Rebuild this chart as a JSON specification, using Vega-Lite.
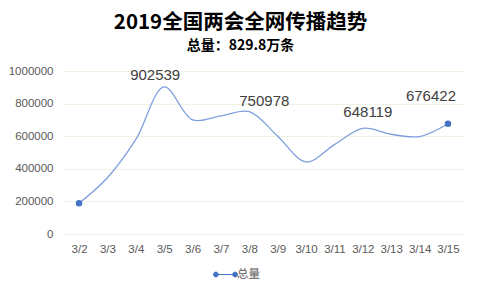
{
  "$schema": "https://vega.github.io/schema/vega-lite/v6.json",
  "autosize": "none",
  "width": 399,
  "height": 163,
  "padding": {"left": 64, "top": 71, "right": 17, "bottom": 56},
  "background": "#ffffff",
  "title": {
    "text": "2019全国两会全网传播趋势",
    "subtitle": "总量：829.8万条",
    "anchor": "middle",
    "dx": -23,
    "offset": 12,
    "font": "Noto Sans CJK SC",
    "fontSize": 20.5,
    "fontWeight": "bold",
    "color": "#000000",
    "subtitleFont": "Noto Sans CJK SC",
    "subtitleFontSize": 14,
    "subtitleFontWeight": "bold",
    "subtitleColor": "#000000",
    "subtitlePadding": 6
  },
  "config": {
    "view": {"stroke": null},
    "font": "Liberation Sans"
  },
  "data": {
    "values": [
      {"date": "3/2", "value": 188000},
      {"date": "3/3", "value": 345000},
      {"date": "3/4", "value": 580000},
      {"date": "3/5", "value": 902539},
      {"date": "3/6", "value": 700000},
      {"date": "3/7", "value": 725000},
      {"date": "3/8", "value": 750978},
      {"date": "3/9", "value": 600000},
      {"date": "3/10", "value": 442000},
      {"date": "3/11", "value": 548000},
      {"date": "3/12", "value": 648119},
      {"date": "3/13", "value": 612000},
      {"date": "3/14", "value": 598000},
      {"date": "3/15", "value": 676422}
    ]
  },
  "encoding": {
    "x": {
      "field": "date",
      "type": "ordinal",
      "sort": null,
      "scale": {"type": "point", "padding": 0.53},
      "axis": {
        "title": null,
        "labelAngle": 0,
        "domain": false,
        "ticks": false,
        "grid": false,
        "labelPadding": 9,
        "labelFontSize": 11.5,
        "labelColor": "#595959",
        "labelFont": "Liberation Sans"
      }
    },
    "y": {
      "field": "value",
      "type": "quantitative",
      "scale": {"domain": [0, 1000000]},
      "axis": {
        "title": null,
        "values": [0, 200000, 400000, 600000, 800000, 1000000],
        "format": "d",
        "domain": false,
        "ticks": false,
        "labelPadding": 11,
        "labelFontSize": 11.5,
        "labelColor": "#595959",
        "labelFont": "Liberation Sans",
        "gridColor": "#eef2e2",
        "gridWidth": 1
      }
    }
  },
  "layer": [
    {
      "mark": {"type": "line", "interpolate": "catmull-rom", "strokeWidth": 1.3, "color": "#7e9fdc"}
    },
    {
      "transform": [{"filter": {"field": "date", "oneOf": ["3/2", "3/15"]}}],
      "mark": {"type": "circle", "size": 42, "opacity": 1},
      "encoding": {
        "color": {
          "datum": "总量",
          "scale": {"range": ["#4472C4"]},
          "legend": {
            "title": null,
            "orient": "none",
            "legendX": 151,
            "legendY": 193,
            "symbolType": "M-1,0H1M-1.25,0A0.25,0.25,0,1,1,-0.75,0A0.25,0.25,0,1,1,-1.25,0M0.75,0A0.25,0.25,0,1,1,1.25,0A0.25,0.25,0,1,1,0.75,0",
            "symbolSize": 370,
            "symbolStrokeWidth": 1,
            "symbolFillColor": "#4472C4",
            "symbolStrokeColor": "#4472C4",
            "labelFont": "Noto Sans CJK SC",
            "labelFontSize": 11.5,
            "labelColor": "#595959",
            "labelOffset": 1
          }
        }
      }
    },
    {
      "transform": [{"filter": {"field": "date", "equal": "3/5"}}],
      "mark": {"type": "text", "dx": -9, "dy": -12, "fontSize": 15, "color": "#404040", "font": "Liberation Sans"},
      "encoding": {"text": {"field": "value", "type": "quantitative", "format": "d"}}
    },
    {
      "transform": [{"filter": {"field": "date", "equal": "3/8"}}],
      "mark": {"type": "text", "dx": 15, "dy": -11, "fontSize": 15, "color": "#404040", "font": "Liberation Sans"},
      "encoding": {"text": {"field": "value", "type": "quantitative", "format": "d"}}
    },
    {
      "transform": [{"filter": {"field": "date", "equal": "3/12"}}],
      "mark": {"type": "text", "dx": 5, "dy": -16, "fontSize": 15, "color": "#404040", "font": "Liberation Sans"},
      "encoding": {"text": {"field": "value", "type": "quantitative", "format": "d"}}
    },
    {
      "transform": [{"filter": {"field": "date", "equal": "3/15"}}],
      "mark": {"type": "text", "dx": -17, "dy": -28, "fontSize": 15, "color": "#404040", "font": "Liberation Sans"},
      "encoding": {"text": {"field": "value", "type": "quantitative", "format": "d"}}
    }
  ]
}
